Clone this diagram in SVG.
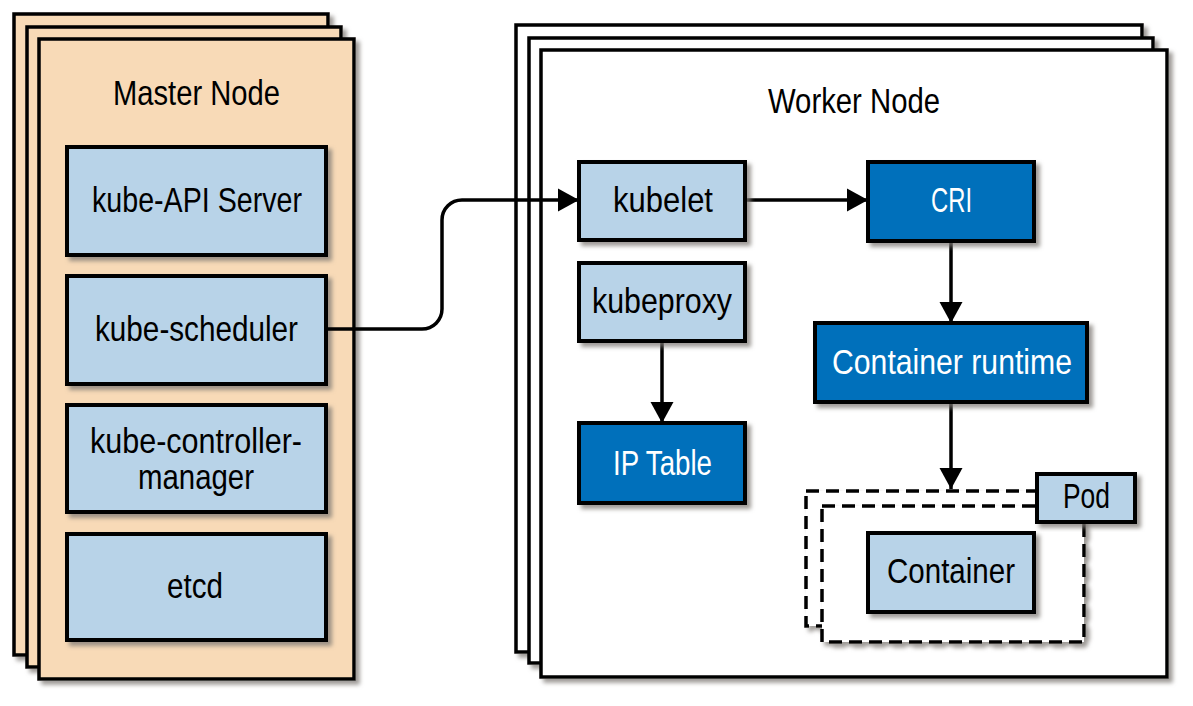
<svg xmlns="http://www.w3.org/2000/svg" width="1193" height="706" viewBox="0 0 1193 706">
<defs>
<filter id="sh" x="-10%" y="-10%" width="130%" height="130%">
<feDropShadow dx="4" dy="4" stdDeviation="2" flood-color="#7d7873" flood-opacity="0.75"/>
</filter>
<marker id="ah" markerUnits="userSpaceOnUse" markerWidth="24" markerHeight="24" refX="21" refY="12" orient="auto">
<path d="M0,0.5 L21,12 L0,23.5 z" fill="#000"/>
</marker>
<style>
.stackM{fill:#f8dab7;stroke:#000;stroke-width:3.5;filter:url(#sh)}
.stackW{fill:#fff;stroke:#000;stroke-width:3.5;filter:url(#sh)}
.lb{fill:#b8d3e8;stroke:#000;stroke-width:4;filter:url(#sh)}
.db{fill:#0070bb;stroke:#000;stroke-width:4;filter:url(#sh)}
.dash{fill:#fff;stroke:#000;stroke-width:3.5;stroke-dasharray:13 7;filter:url(#sh)}
.t{font-family:"Liberation Sans",Arial,sans-serif;font-size:35px;fill:#000}
.tw{font-family:"Liberation Sans",Arial,sans-serif;font-size:35px;fill:#fff}
.ln{fill:none;stroke:#000;stroke-width:3.5}
</style>
</defs>
<rect width="1193" height="706" fill="#fff"/>

<g id="master-node">
<rect class="stackM" x="14" y="14" width="314" height="641"/>
<rect class="stackM" x="27" y="27" width="314" height="640"/>
<rect class="stackM" x="39" y="39" width="315" height="640"/>
<text class="t" x="113" y="105" textLength="167" lengthAdjust="spacingAndGlyphs">Master Node</text>
</g>

<g id="kube-api-server">
<rect class="lb" x="67" y="147" width="259" height="108"/>
<text class="t" x="92" y="212" textLength="210" lengthAdjust="spacingAndGlyphs">kube-API Server</text>
</g>
<g id="kube-scheduler">
<rect class="lb" x="67" y="276" width="259" height="108"/>
<text class="t" x="95" y="341" textLength="203" lengthAdjust="spacingAndGlyphs">kube-scheduler</text>
</g>
<g id="kube-controller-manager">
<rect class="lb" x="67" y="405" width="259" height="107"/>
<text class="t" x="90" y="453" textLength="212" lengthAdjust="spacingAndGlyphs">kube-controller-</text>
<text class="t" x="138" y="489" textLength="116" lengthAdjust="spacingAndGlyphs">manager</text>
</g>
<g id="etcd">
<rect class="lb" x="67" y="534" width="259" height="106"/>
<text class="t" x="167" y="598" textLength="56" lengthAdjust="spacingAndGlyphs">etcd</text>
</g>

<g id="worker-node">
<rect class="stackW" x="516" y="25" width="626" height="627"/>
<rect class="stackW" x="529" y="38" width="624" height="625"/>
<rect class="stackW" x="541" y="50" width="626" height="627"/>
<text class="t" x="768" y="113" textLength="172" lengthAdjust="spacingAndGlyphs">Worker Node</text>
</g>

<g id="connectors">
<path class="ln" d="M326,329 H422 A20,20 0 0 0 442,309 V220 A20,20 0 0 1 462,200 H579" marker-end="url(#ah)"/>
<path class="ln" d="M745,200 H868" marker-end="url(#ah)"/>
<path class="ln" d="M662,341 V423" marker-end="url(#ah)"/>
<path class="ln" d="M951,241 V323" marker-end="url(#ah)"/>
<path class="ln" d="M951,402 V489" marker-end="url(#ah)"/>
</g>

<g id="kubelet">
<rect class="lb" x="579" y="162" width="166" height="78"/>
<text class="t" x="613" y="212" textLength="100" lengthAdjust="spacingAndGlyphs">kubelet</text>
</g>
<g id="kubeproxy">
<rect class="lb" x="579" y="263" width="166" height="78"/>
<text class="t" x="592" y="313" textLength="140" lengthAdjust="spacingAndGlyphs">kubeproxy</text>
</g>
<g id="ip-table">
<rect class="db" x="579" y="423" width="166" height="80"/>
<text class="tw" x="613" y="475" textLength="99" lengthAdjust="spacingAndGlyphs">IP Table</text>
</g>
<g id="cri">
<rect class="db" x="868" y="162" width="166" height="79"/>
<text class="tw" x="931" y="212" textLength="41" lengthAdjust="spacingAndGlyphs">CRI</text>
</g>
<g id="container-runtime">
<rect class="db" x="815" y="323" width="272" height="79"/>
<text class="tw" x="832" y="374" textLength="240" lengthAdjust="spacingAndGlyphs">Container runtime</text>
</g>

<g id="pod">
<rect class="dash" x="806" y="491" width="264" height="135"/>
<rect class="dash" x="822" y="506" width="262" height="136"/>
<rect class="lb" x="1037" y="474" width="98" height="48"/>
<text class="t" x="1063" y="508" textLength="47" lengthAdjust="spacingAndGlyphs">Pod</text>
</g>
<g id="container">
<rect class="lb" x="868" y="533" width="166" height="79"/>
<text class="t" x="887" y="583" textLength="128" lengthAdjust="spacingAndGlyphs">Container</text>
</g>
</svg>
